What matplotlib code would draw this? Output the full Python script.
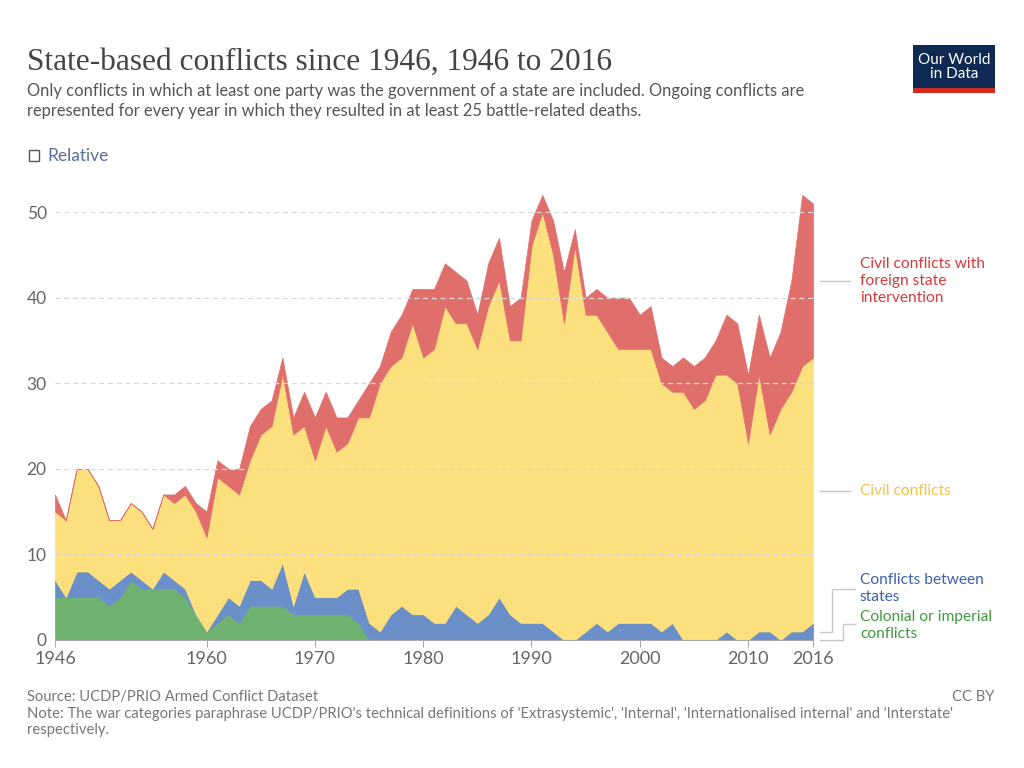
import numpy as np
import matplotlib
matplotlib.use("Agg")
import matplotlib.pyplot as plt
from matplotlib.patches import Rectangle

# Data (number of conflicts per year)
years = np.arange(1946, 2017)
colonial = [5, 5, 5, 5, 5, 4, 5, 7, 6, 6, 6, 6, 5, 3, 1, 2, 3, 2, 4, 4,
            4, 4, 3, 3, 3, 3, 3, 3, 2, 0, 0, 0, 0, 0, 0, 0, 0, 0, 0, 0,
            0, 0, 0, 0, 0, 0, 0, 0, 0, 0, 0, 0, 0, 0, 0, 0, 0, 0, 0, 0,
            0, 0, 0, 0, 0, 0, 0, 0, 0, 0, 0]
interstate = [2, 0, 3, 3, 2, 2, 2, 1, 1, 0, 2, 1, 1, 0, 0, 1, 2, 2, 3, 3,
              2, 5, 1, 5, 2, 2, 2, 3, 4, 2, 1, 3, 4, 3, 3, 2, 2, 4, 3, 2,
              3, 5, 3, 2, 2, 2, 1, 0, 0, 1, 2, 1, 2, 2, 2, 2, 1, 2, 0, 0,
              0, 0, 1, 0, 0, 1, 1, 0, 1, 1, 2]
civil = [8, 9, 12, 12, 11, 8, 7, 8, 8, 7, 9, 9, 11, 12, 11, 16, 13, 13, 14, 17,
         19, 22, 20, 17, 16, 20, 17, 17, 20, 24, 29, 29, 29, 34, 30, 32, 37, 33, 34, 32,
         36, 37, 32, 33, 44, 48, 44, 37, 46, 37, 36, 35, 32, 32, 32, 32, 29, 27, 29, 27,
         28, 31, 30, 30, 23, 30, 23, 27, 28, 31, 31]
intervention = [2, 0, 0, 0, 0, 0, 0, 0, 0, 0, 0, 1, 1, 1, 3, 2, 2, 3, 4, 3,
                3, 2, 2, 4, 5, 4, 4, 3, 2, 4, 2, 4, 5, 4, 8, 7, 5, 6, 5, 4,
                5, 5, 4, 5, 3, 2, 4, 6, 2, 2, 3, 4, 6, 6, 4, 5, 3, 3, 4, 5,
                5, 4, 7, 7, 8, 7, 9, 9, 13, 20, 18]

series_labels = ["Colonial or imperial\nconflicts", "Conflicts between\nstates",
                 "Civil conflicts", "Civil conflicts with\nforeign state\nintervention"]
colors = ["#6fb26f", "#6b8fc8", "#fde07e", "#e06f6b"]
label_colors = ["#3f9a3f", "#3c62ad", "#f0c540", "#d5393a"]
xticks = [1946, 1960, 1970, 1980, 1990, 2000, 2010, 2016]
yticks = [0, 10, 20, 30, 40, 50]

W, H = 1024, 768
fig = plt.figure(figsize=(W / 100, H / 100), dpi=100)
fig.patch.set_facecolor("white")


def fx(x):
    return x / W


def fy(y):
    return 1 - y / H


# axes placed so 1946 -> x=55, 2016 -> x=813, 0 -> y=640, 50 -> y=212
ymax = 53
ax = fig.add_axes([fx(55), fy(640), (813 - 55) / W, ymax * 8.56 / H])
stack = [np.array(s) for s in (colonial, interstate, civil, intervention)]
polys = ax.stackplot(years, *stack, colors=colors, zorder=2)
for p, c in zip(polys, colors):
    p.set_edgecolor(c)
    p.set_linewidth(0.5)

ax.set_xlim(1946, 2016)
ax.set_ylim(0, ymax)
ax.set_yticks(yticks)
ax.set_xticks(xticks)
ax.set_xticklabels([str(t) for t in xticks])
for y in yticks[1:]:
    ax.axhline(y, color="#d8d8d8", linestyle=(0, (4, 3)), linewidth=0.9, zorder=3)
for s in ["top", "right", "left"]:
    ax.spines[s].set_visible(False)
ax.spines["bottom"].set_color("#aaaaaa")
ax.tick_params(axis="y", length=0, pad=6, labelsize=12.5, labelcolor="#666666")
ax.tick_params(axis="x", length=5, color="#aaaaaa", pad=3, labelsize=13, labelcolor="#666666")
for lbl in ax.get_xticklabels() + ax.get_yticklabels():
    lbl.set_fontfamily("Lato")
ax.set_facecolor("none")

# right-hand labels
lab_kw = dict(fontsize=11.2, fontfamily="Lato", va="top", ha="left", linespacing=1.28)
fig.text(fx(860), fy(257), series_labels[3], color=label_colors[3], **lab_kw)
fig.text(fx(860), fy(484), series_labels[2], color=label_colors[2], **lab_kw)
fig.text(fx(860), fy(573), series_labels[1], color=label_colors[1], **lab_kw)
fig.text(fx(860), fy(610), series_labels[0], color=label_colors[0], **lab_kw)

line_kw = dict(color="#c8c8c8", linewidth=1, transform=fig.transFigure)
fig.add_artist(plt.Line2D([fx(820), fx(850)], [fy(281), fy(281)], **line_kw))
fig.add_artist(plt.Line2D([fx(820), fx(850)], [fy(491), fy(491)], **line_kw))
fig.add_artist(plt.Line2D([fx(820), fx(832), fx(832), fx(855)],
                          [fy(632), fy(632), fy(589), fy(589)], **line_kw))
fig.add_artist(plt.Line2D([fx(820), fx(843), fx(843), fx(855)],
                          [fy(640), fy(640), fy(624), fy(624)], **line_kw))

# title and subtitle
fig.text(fx(27), fy(62), "State-based conflicts since 1946, 1946 to 2016",
         fontsize=22.6, fontfamily="Liberation Serif", color="#444444", va="center")
fig.text(fx(27), fy(91),
         "Only conflicts in which at least one party was the government of a state are included. Ongoing conflicts are",
         fontsize=11.9, fontfamily="Lato", color="#555555", va="center")
fig.text(fx(27), fy(111),
         "represented for every year in which they resulted in at least 25 battle-related deaths.",
         fontsize=11.9, fontfamily="Lato", color="#555555", va="center")

# "Relative" checkbox
fig.add_artist(Rectangle((fx(29), fy(161)), 10 / W, 11 / H, fill=False,
                         edgecolor="#555555", linewidth=1, transform=fig.transFigure))
fig.text(fx(47), fy(156), "Relative", fontsize=12.5, fontfamily="Lato",
         color="#5b6e98", va="center")

# logo
fig.add_artist(Rectangle((fx(913), fy(88)), 82 / W, 43 / H, facecolor="#0f2a52",
                         edgecolor="none", transform=fig.transFigure))
fig.add_artist(Rectangle((fx(913), fy(93)), 82 / W, 5 / H, facecolor="#d42b21",
                         edgecolor="none", transform=fig.transFigure))
fig.text(fx(954), fy(67), "Our World\nin Data", fontsize=11, fontfamily="Lato",
         color="white", ha="center", va="center", linespacing=1.0)

# footer
foot_kw = dict(fontsize=10.6, fontfamily="Lato", color="#777777", va="center")
fig.text(fx(27), fy(697), "Source: UCDP/PRIO Armed Conflict Dataset", **foot_kw)
fig.text(fx(27), fy(714),
         "Note: The war categories paraphrase UCDP/PRIO's technical definitions of "
         "'Extrasystemic', 'Internal', 'Internationalised internal' and 'Interstate'", **foot_kw)
fig.text(fx(27), fy(730), "respectively.", **foot_kw)
fig.text(fx(994), fy(697), "CC BY", ha="right", **foot_kw)

fig.savefig("out.png", dpi=100, facecolor="white")
